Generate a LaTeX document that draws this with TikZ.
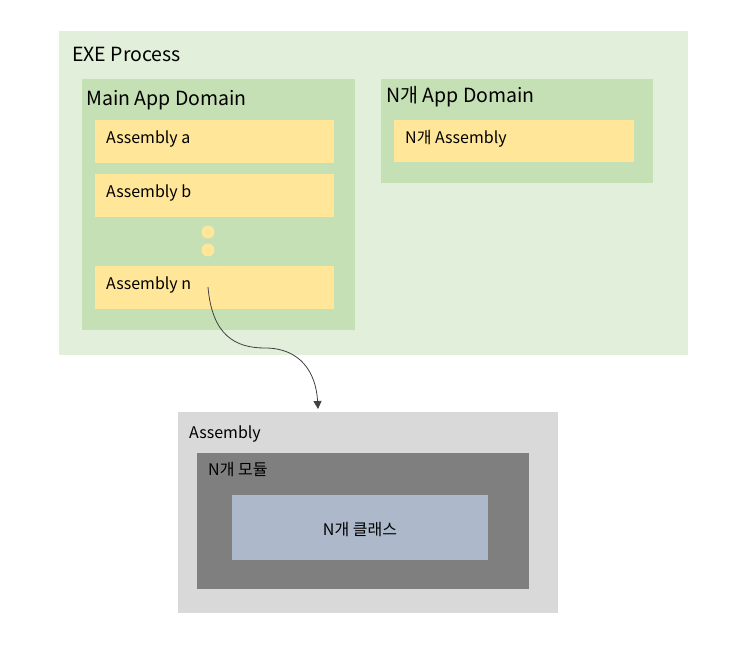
\documentclass[tikz,border=0pt]{standalone}
\usepackage{fontspec}
\setmainfont{Noto Sans CJK KR}
\usetikzlibrary{positioning,arrows.meta}
\definecolor{procgreen}{HTML}{E2EFDA}
\definecolor{domgreen}{HTML}{C5E0B4}
\definecolor{asmyellow}{HTML}{FFE699}
\definecolor{asmgray}{HTML}{D9D9D9}
\definecolor{modgray}{HTML}{7F7F7F}
\definecolor{clsblue}{HTML}{ADB9CA}
\definecolor{arrowgray}{HTML}{404040}

\tikzset{
  box/.style={anchor=north west, inner sep=0pt, outer sep=0pt},
  lbl/.style={anchor=west, inner sep=0pt, font=\fontsize{16}{19}\selectfont},
  biglbl/.style={anchor=west, inner sep=0pt, font=\fontsize{19.5}{23}\selectfont}
}

\begin{document}
\begin{tikzpicture}[x=1pt,y=-1pt]
\useasboundingbox (0,0) rectangle (751,655);

% EXE process and its app domains
\node[box, fill=procgreen, minimum width=629pt, minimum height=324pt] (exe) at (59,31) {};
\node[biglbl] (exelbl) at (72,54) {EXE Process};
\node[box, fill=domgreen, minimum width=273pt, minimum height=251pt] (maindom) at (82,79) {};
\node[biglbl] (mainlbl) at (86,100) {Main App Domain};
\node[box, fill=domgreen, minimum width=272pt, minimum height=104pt] (ndom) at (381,79) {};
\node[biglbl] (ndomlbl) at (386,97) {N개 App Domain};

% assemblies in the main domain
\foreach \n/\y/\t in {a/120/Assembly a, b/174/Assembly b, n/266/Assembly n} {
    \node[box, fill=asmyellow, minimum width=239pt, minimum height=43pt] (asm\n) at (95,\y) {};
    \node[lbl] (asm\n lbl) at (106,\y+19) {\t};
}
\foreach \i/\y in {1/232, 2/250} {
    \node[fill=asmyellow, circle, inner sep=0pt, minimum size=13pt] (dot\i) at (208,\y) {};
}
\node[box, fill=asmyellow, minimum width=240pt, minimum height=42pt] (nasm) at (394,120) {};
\node[lbl] (nasmlbl) at (405,139) {N개 Assembly};

% inside of one assembly
\node[box, fill=asmgray, minimum width=380pt, minimum height=201pt] (asm) at (178,412) {};
\node[lbl] (asmlbl) at (189,434) {Assembly};
\node[box, fill=modgray, minimum width=332pt, minimum height=136pt] (mod) at (197,453) {};
\node[lbl] (modlbl) at (208,470) {N개 모듈};
\node[box, fill=clsblue, minimum width=256pt, minimum height=65pt] (cls) at (232,495) {};
\node[lbl, anchor=center] (clslbl) at ([yshift=-2pt]cls.center) {N개 클래스};

% arrow from assembly n down to the assembly detail
\coordinate (nfrom) at (208,287);
\coordinate (asmto) at (318,409);
\draw[arrowgray, line width=0.8pt, -{Triangle[length=8pt,width=8pt]}]
  (nfrom) .. controls (212,335) and (235,348) .. (265,348)
          .. controls (300,348) and (316,372) .. (asmto);
\end{tikzpicture}
\end{document}
